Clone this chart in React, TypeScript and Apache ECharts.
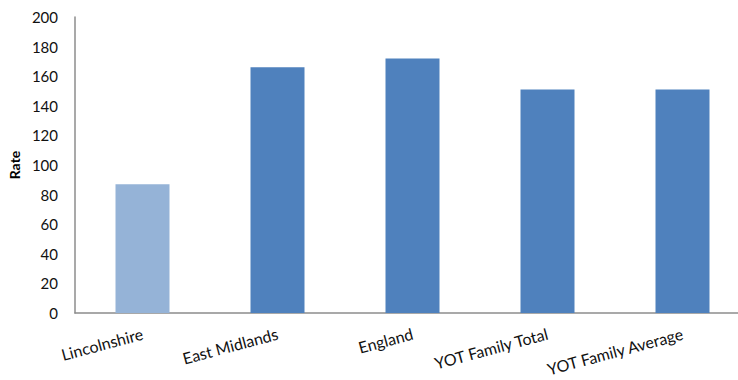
import React, { useEffect, useRef } from "react";
import * as echarts from "echarts";

const categories = ["Lincolnshire", "East Midlands", "England", "YOT Family Total", "YOT Family Average"];
const rates = [87, 166, 172, 151, 151];
const barColors = ["#95B3D7", "#4F81BD", "#4F81BD", "#4F81BD", "#4F81BD"];
const yMin = 0;
const yMax = 200;
const yStep = 20;

export default function App() {
  const ref = useRef<HTMLDivElement>(null);
  useEffect(() => {
    document.body.style.margin = "0";
    const chart = echarts.init(ref.current!, null, { renderer: "svg" });
    const font = "Lato, 'Liberation Sans', sans-serif";
    chart.setOption({
      animation: false,
      backgroundColor: "#ffffff",
      textStyle: { fontFamily: font },
      grid: { left: 75, width: 675, top: 17, bottom: 67, outerBoundsMode: "none", containLabel: false },
      xAxis: {
        type: "category",
        data: categories,
        axisLine: { lineStyle: { color: "#8C8C8C", width: 1.5 } },
        axisTick: { show: false },
        axisLabel: { rotate: 15, margin: 20, fontSize: 16, color: "#111", fontFamily: font, interval: 0 },
      },
      yAxis: {
        type: "value",
        min: yMin,
        max: yMax,
        interval: yStep,
        name: "Rate",
        nameLocation: "middle",
        nameGap: 54,
        nameTextStyle: { fontWeight: "bold", fontSize: 14, color: "#000", fontFamily: font },
        axisLine: { show: true, lineStyle: { color: "#8C8C8C", width: 1.5 } },
        axisTick: { show: false },
        splitLine: { show: false },
        axisLabel: { fontSize: 15, color: "#111", margin: 17, fontFamily: font },
      },
      series: [
        {
          type: "bar",
          barWidth: 54,
          data: rates.map((v, i) => ({ value: v, itemStyle: { color: barColors[i] } })),
        },
      ],
    });
    return () => chart.dispose();
  }, []);
  return <div ref={ref} style={{ width: 738, height: 380 }} />;
}
